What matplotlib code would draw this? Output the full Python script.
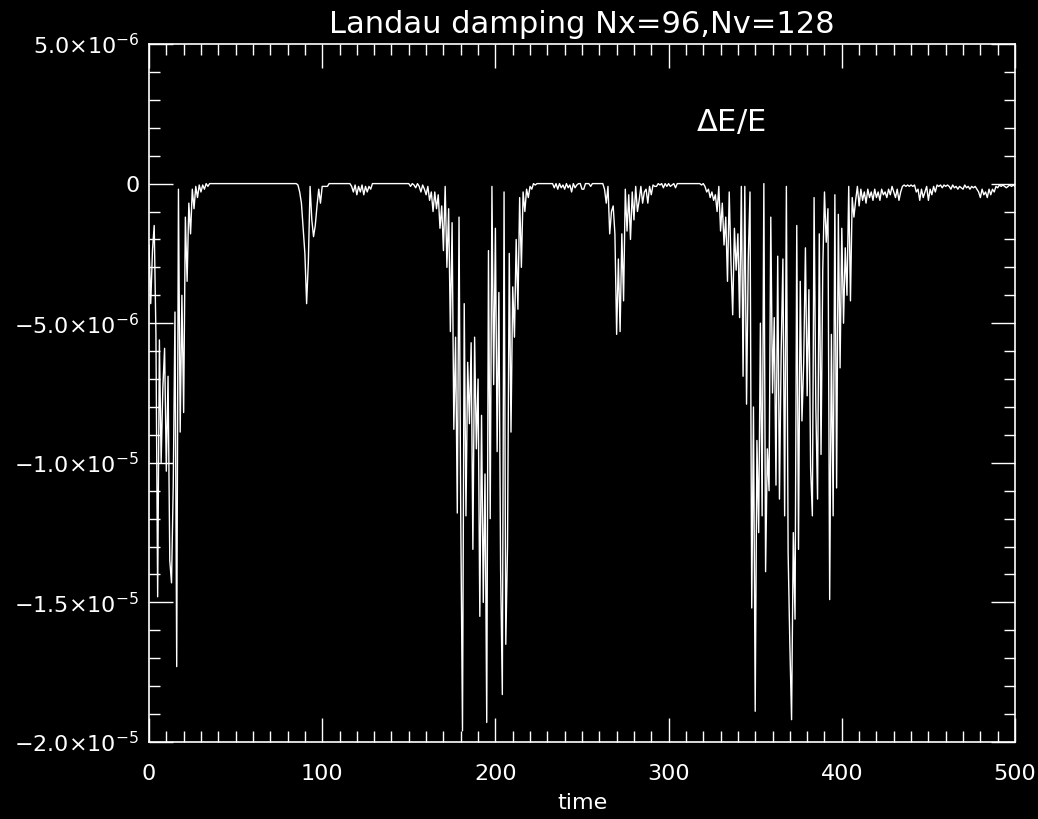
import numpy as np
import matplotlib
matplotlib.use("Agg")
import matplotlib.pyplot as plt
from matplotlib.ticker import MultipleLocator, FixedLocator

# Relative energy error dE/E (units of 1e-6), one sample per unit time, t = 0..500
delta_e = [
    # t 0-29
    -2.2, -4.3, -2.4, -1.5, -5.4, -14.8, -5.6, -10.0, -7.3, -5.9,
    -10.3, -6.9, -13.5, -14.3, -10.8, -4.6, -17.3, -0.2, -8.9, -4.0,
    -8.2, -1.2, -3.5, -0.7, -1.8, -0.2, -0.9, -0.1, -0.5, -0.05,
    # t 30-79
    -0.3, -0.05, -0.2, 0.0, -0.1, 0, 0, 0, 0, 0,
    0, 0, 0, 0, 0, 0, 0, 0, 0, 0,
    0, 0, 0, 0, 0, 0, 0, 0, 0, 0,
    0, 0, 0, 0, 0, 0, 0, 0, 0, 0,
    0, 0, 0, 0, 0, 0, 0, 0, 0, 0,
    # t 80-129
    0, 0, 0, 0, 0, 0, -0.05, -0.3, -0.7, -1.6,
    -2.5, -4.3, -2.8, -0.1, -1.3, -1.9, -1.5, -0.8, -0.2, -0.7,
    -0.1, -0.1, -0.1, -0.1, 0, 0, 0, 0, 0, 0,
    0, 0, 0, 0, 0, 0, 0, -0.1, -0.3, -0.05,
    -0.4, -0.1, -0.3, -0.05, -0.4, -0.1, -0.3, -0.1, -0.2, 0,
    # t 130-169
    0, 0, 0, 0, 0, 0, 0, 0, 0, 0,
    0, 0, 0, 0, 0, 0, 0, 0, 0, 0,
    0, -0.1, 0, -0.05, -0.15, 0, -0.1, -0.3, -0.05, -0.2,
    -0.4, -0.1, -0.6, -0.3, -1.0, -0.3, -0.9, -0.4, -1.6, -0.8,
    # t 170-219
    -2.4, -0.1, -3.0, -0.9, -5.3, -1.4, -8.8, -5.5, -11.8, -1.2,
    -12.0, -19.6, -4.3, -11.9, -6.4, -8.6, -5.7, -13.1, -5.5, -9.5,
    -7.0, -15.5, -8.3, -15.0, -10.4, -19.3, -2.4, -12.0, -0.1, -7.2,
    -1.6, -9.6, -3.9, -13.8, -18.3, -0.3, -16.5, -13.0, -2.5, -8.9,
    -3.7, -5.5, -2.0, -4.5, -0.5, -3.0, -0.3, -1.0, -0.2, -0.5,
    # t 220-259
    -0.1, -0.2, 0, -0.05, 0, 0, 0, 0, 0, 0,
    0, 0, 0, 0, -0.15, 0, -0.2, 0, -0.15, -0.05,
    -0.2, 0, -0.15, -0.05, -0.3, 0, -0.15, -0.05, 0, 0,
    -0.2, -0.2, 0, 0, 0, -0.1, 0, 0, 0, 0,
    # t 260-299
    0, 0, 0, -0.2, -0.7, -0.1, -1.8, -1.0, -0.8, -1.8,
    -5.4, -2.7, -5.3, -1.8, -4.2, -0.2, -1.7, -0.4, -2.0, -0.3,
    -1.3, -0.1, -1.0, -0.6, -0.1, -0.7, -0.3, -0.2, -0.7, -0.1,
    -0.4, -0.05, -0.1, -0.1, 0, -0.05, 0, -0.15, 0, -0.1,
    # t 300-319
    0, -0.1, -0.05, 0, -0.15, 0, 0, 0, 0, 0,
    0, 0, 0, 0, 0, 0, 0, 0, 0, -0.05,
    # t 320-409
    0, -0.1, -0.3, -0.2, -0.5, -0.3, -0.6, -0.4, -1.0, -0.1,
    -1.7, -0.7, -2.2, -1.2, -3.5, -0.3, -2.8, -4.7, -1.6, -3.1,
    -1.8, -4.8, -0.1, -6.9, -0.1, -7.9, -2.7, -0.3, -15.2, -8.0,
    -18.9, -9.2, -12.5, -5.0, -11.9, 0.0, -13.9, -9.5, -11.0, -1.2,
    -7.5, -4.8, -10.8, -2.6, -11.3, -6.0, -2.7, -11.9, -0.1, -13.2,
    -16.5, -19.2, -12.5, -15.6, -1.5, -13.1, -3.5, -8.5, -6.4, -2.3,
    -7.6, -3.8, -10.2, -11.9, -0.5, -8.0, -11.3, -1.8, -9.7, -3.1,
    -0.3, -2.1, -0.9, -14.9, -5.4, -11.9, -0.4, -10.9, -1.1, -6.6,
    -1.6, -5.0, -2.3, -4.0, -0.1, -4.2, -0.5, -1.2, -0.6, -0.1,
    # t 410-500
    -0.8, -0.2, -0.6, -0.3, -0.7, -0.2, -0.5, -0.3, -0.6, -0.2,
    -0.5, -0.3, -0.6, -0.2, -0.4, -0.3, -0.5, -0.2, -0.4, -0.1,
    -0.3, -0.5, -0.2, -0.6, -0.3, -0.1, -0.05, -0.1, -0.05, -0.1,
    -0.05, -0.1, -0.05, -0.3, -0.2, -0.6, -0.2, -0.5, -0.3, -0.1,
    -0.6, -0.2, -0.4, -0.1, -0.3, -0.05, -0.1, -0.05, -0.15, -0.05,
    -0.1, -0.05, -0.1, -0.2, -0.05, -0.15, -0.1, -0.2, -0.1, -0.15,
    -0.2, -0.05, -0.15, -0.1, -0.2, -0.1, -0.15, -0.1, -0.2, -0.3,
    -0.5, -0.2, -0.4, -0.3, -0.5, -0.2, -0.4, -0.2, -0.3, -0.1,
    -0.15, -0.05, -0.1, -0.05, -0.1, -0.15, -0.1, -0.05, -0.1, -0.05,
    -0.1,
]

time = np.linspace(0, 500, len(delta_e))
energy_err = np.array(delta_e) * 1e-6

y_ticks = [-2.0e-5, -1.5e-5, -1.0e-5, -5.0e-6, 0.0, 5.0e-6]
y_tick_labels = [r"$-2.0{\times}10^{-5}$", r"$-1.5{\times}10^{-5}$",
                 r"$-1.0{\times}10^{-5}$", r"$-5.0{\times}10^{-6}$",
                 "0", r"$5.0{\times}10^{-6}$"]
x_ticks = [0, 100, 200, 300, 400, 500]
x_tick_labels = ["0", "100", "200", "300", "400", "500"]

plt.rcParams["font.family"] = ["DejaVu Sans"]
plt.rcParams["mathtext.fontset"] = "dejavusans"

fig = plt.figure(figsize=(10.38, 8.19), dpi=100, facecolor="black")
ax = fig.add_axes([149 / 1038, 1 - 742 / 819, (1015 - 149) / 1038, (742 - 44) / 819])
ax.set_facecolor("black")

ax.plot(time, energy_err, color="white", lw=1.0)

ax.set_xlim(0, 500)
ax.set_ylim(-2.0e-5, 5.0e-6)

ax.xaxis.set_major_locator(FixedLocator(x_ticks))
ax.set_xticklabels(x_tick_labels)
ax.xaxis.set_minor_locator(MultipleLocator(10))
ax.yaxis.set_major_locator(FixedLocator(y_ticks))
ax.set_yticklabels(y_tick_labels)
ax.yaxis.set_minor_locator(MultipleLocator(1e-6))

for side in ax.spines.values():
    side.set_color("white")
    side.set_linewidth(1.2)

ax.tick_params(which="both", direction="in", colors="white",
               top=True, right=True, width=1.0)
ax.tick_params(which="major", length=17)
ax.tick_params(which="minor", length=8)
ax.tick_params(axis="y", which="major", labelsize=16, pad=7)
ax.tick_params(axis="x", which="major", labelsize=16, pad=16)

ax.set_xlabel("time", color="white", fontsize=16, labelpad=6)
ax.set_title("Landau damping Nx=96,Nv=128", color="white", fontsize=22, pad=8)
ax.text(336, 2.2e-6, r"$\Delta$E/E", color="white", fontsize=22,
        ha="center", va="center")

fig.savefig("out.png", dpi=100, facecolor="black")
